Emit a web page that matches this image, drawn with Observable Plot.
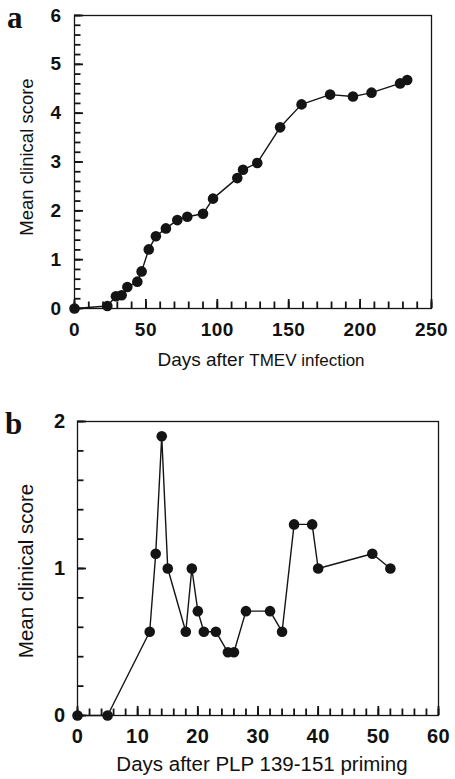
<!DOCTYPE html>
<html><head><meta charset="utf-8">
<script src="https://cdn.jsdelivr.net/npm/d3@7"></script>
<script src="https://cdn.jsdelivr.net/npm/@observablehq/plot@0.6"></script>
<style>
body{margin:0;background:#fff;}
#wrap{position:relative;width:455px;height:779px;font-family:"Liberation Sans",Arial,Helvetica,sans-serif;color:#111;overflow:hidden;}
.panel{position:absolute;left:0;}
.letter{position:absolute;font-family:"Liberation Serif","Times New Roman",serif;font-weight:bold;font-size:31px;line-height:1.1;}
.xt{position:absolute;white-space:nowrap;transform:translateX(-50%);line-height:1;}
.yt{position:absolute;white-space:nowrap;line-height:1;transform:translate(-50%,-50%) rotate(-90deg);}
</style></head>
<body>
<div id="wrap">
  <div class="panel" id="pa" style="top:0"></div>
  <div class="panel" id="pb" style="top:380px"></div>
  <div class="letter" style="left:7px;top:1px">a</div>
  <div class="letter" style="left:5px;top:407px">b</div>
  <div class="yt" style="left:27px;top:157px;font-size:18.5px">Mean clinical score</div>
  <div class="xt" style="left:261px;top:350px;font-size:19px">Days after <span style="font-size:17px">TMEV infection</span></div>
  <div class="yt" style="left:26px;top:571px;font-size:20.5px">Mean clinical score</div>
  <div class="xt" style="left:262px;top:754px;font-size:20.5px">Days after PLP 139-151 priming</div>
</div>
<script>
// Panel a: TMEV infection
const daysA   = [0, 23, 29, 33, 37, 44, 47, 52, 57, 64, 72, 79, 90, 97, 114, 118, 128, 144, 159, 179, 195, 208, 228, 233];
const scoresA = [0, 0.05, 0.25, 0.27, 0.44, 0.55, 0.76, 1.21, 1.48, 1.64, 1.81, 1.88, 1.94, 2.25, 2.67, 2.84, 2.98, 3.71, 4.18, 4.38, 4.34, 4.42, 4.61, 4.68];
const xTicksA = [0, 50, 100, 150, 200, 250];
const yTicksA = [0, 1, 2, 3, 4, 5, 6];
const xMinorA = d3.range(0, 251, 10);
const yMinorA = d3.range(0, 6.01, 0.2);

// Panel b: PLP 139-151 priming
const daysB   = [0, 5, 12, 13, 14, 15, 18, 19, 20, 21, 23, 25, 26, 28, 32, 34, 36, 39, 40, 49, 52];
const scoresB = [0, 0, 0.57, 1.1, 1.9, 1.0, 0.57, 1.0, 0.71, 0.57, 0.57, 0.43, 0.43, 0.71, 0.71, 0.57, 1.3, 1.3, 1.0, 1.1, 1.0];
const xTicksB = [0, 10, 20, 30, 40, 50, 60];
const yTicksB = [0, 1, 2];
const xMinorB = d3.range(0, 61, 2);
const yMinorB = d3.range(0, 2.01, 0.2);

function panel(o) {
  const data = o.days.map((d, i) => ({day: d, score: o.scores[i]}));
  const ink = "#141414";
  const [mt, mr, mb, ml] = o.m;
  const plotH = o.height - mt - mb;
  const plotW = 455 - ml - mr;
  const [x0, x1] = o.xDomain, [y0, y1] = o.yDomain;
  // tick lengths given in pixels, converted to data units
  const ly = px => y0 + px * (y1 - y0) / plotH;
  const lx = px => x0 + px * (x1 - x0) / plotW;
  return Plot.plot({
    width: 455, height: o.height,
    marginTop: mt, marginRight: mr, marginBottom: mb, marginLeft: ml,
    style: {fontFamily: '"Liberation Sans", Arial, sans-serif', fontSize: o.fs + "px", fontWeight: "bold", background: "white", letterSpacing: "0.5px"},
    x: {domain: o.xDomain, label: null},
    y: {domain: o.yDomain, label: null},
    marks: [
      Plot.frame({stroke: ink, strokeWidth: 1.3}),
      Plot.ruleX(o.xMinor, {x: d => d, y1: y0, y2: ly(6.5), stroke: ink, strokeWidth: 1.8}),
      Plot.ruleX(o.xMajor, {x: d => d, y1: y0, y2: ly(9), stroke: ink, strokeWidth: 1.8}),
      Plot.ruleY(o.yMinor, {y: d => d, x1: x0, x2: lx(6.5), stroke: ink, strokeWidth: 1.8}),
      Plot.ruleY(o.yMajor, {y: d => d, x1: x0, x2: lx(9), stroke: ink, strokeWidth: 1.8}),
      Plot.axisX({ticks: o.xMajor, tickSize: 0, tickPadding: o.padX, tickFormat: d3.format("d"), label: null}),
      Plot.axisY({ticks: o.yMajor, tickSize: 0, tickPadding: o.padY, tickFormat: d3.format("d"), label: null}),
      Plot.line(data, {x: "day", y: "score", stroke: ink, strokeWidth: 1.4}),
      Plot.dot(data, {x: "day", y: "score", r: 5.3, fill: ink, stroke: "none"})
    ]
  });
}

document.getElementById("pa").append(panel({
  days: daysA, scores: scoresA, xDomain: [0, 250], yDomain: [0, 6],
  xMajor: xTicksA, xMinor: xMinorA, yMajor: yTicksA, yMinor: yMinorA,
  height: 380, m: [15, 24, 72, 74], fs: 19, padX: 14, padY: 13
}));
document.getElementById("pb").append(panel({
  days: daysB, scores: scoresB, xDomain: [0, 60], yDomain: [0, 2],
  xMajor: xTicksB, xMinor: xMinorB, yMajor: yTicksB, yMinor: yMinorB,
  height: 399, m: [41, 17, 64, 77], fs: 20, padX: 13, padY: 12
}));
</script>
</body></html>
